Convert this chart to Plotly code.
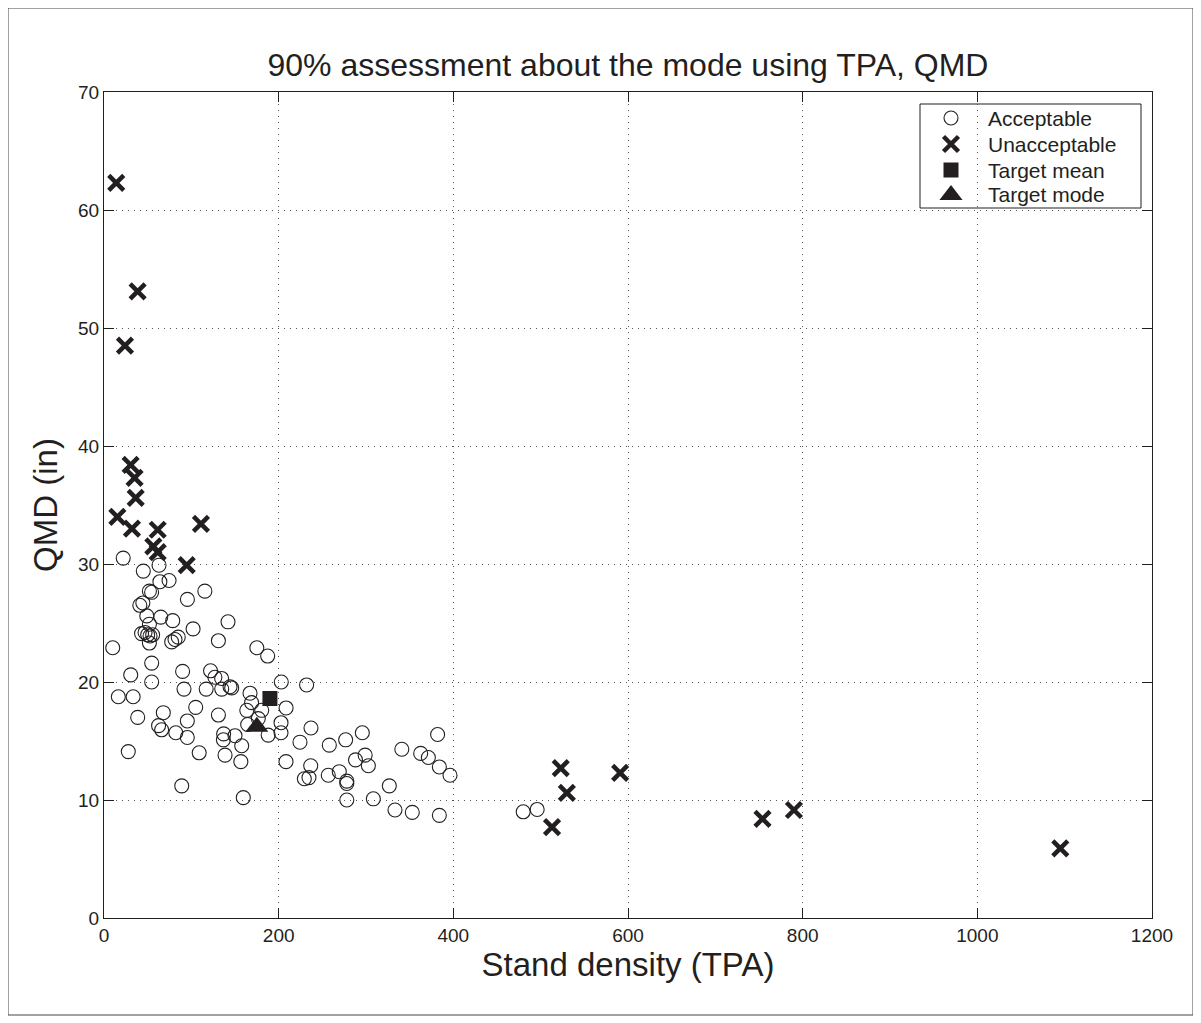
import plotly.graph_objects as go

# Acceptable points (TPA, QMD)
acc_tpa = [22, 45, 63, 64, 74.5, 52, 54.5, 115.5, 95.5, 41, 44.5, 49, 65, 78.7, 142, 52, 102,
           43, 47, 50, 52.7, 55.7, 52, 77.5, 81.3, 85, 131, 10, 175, 187.4, 54.6, 30.6, 90, 122,
           127, 134.7, 54.6, 203, 232, 91.6, 117, 134.8, 144.3, 146.2, 16.4, 33.4, 167.2, 169,
           208.5, 38.6, 67.9, 105, 131, 163.5, 180.6, 176.7, 164.5, 62.5, 66, 95.4, 82.2, 95.4,
           137, 136.7, 150, 157.7, 109, 138.6, 156.7, 27.8, 89, 159.5, 202.7, 202.7, 188, 208.4,
           237, 224.4, 258, 276.7, 295.8, 299, 288, 302.7, 236.7, 229.4, 234.7, 256.8, 269.4,
           278, 278, 278, 308.4, 326.7, 333.2, 353, 384, 341, 362.6, 371.4, 382, 384, 396.2,
           480, 496]
acc_qmd = [30.5, 29.4, 29.9, 28.5, 28.6, 27.7, 27.6, 27.7, 27.0, 26.5, 26.7, 25.6, 25.5, 25.2, 25.1, 24.9, 24.5,
           24.1, 24.2, 24.0, 23.9, 24.0, 23.3, 23.4, 23.6, 23.8, 23.5, 22.9, 22.9, 22.2, 21.6, 20.6, 20.9, 20.95,
           20.4, 20.3, 20.0, 20.0, 19.75, 19.4, 19.4, 19.4, 19.6, 19.5, 18.75, 18.75, 19.05, 18.25,
           17.8, 17.0, 17.4, 17.85, 17.2, 17.6, 17.6, 16.9, 16.4, 16.3, 15.95, 16.7, 15.7, 15.3,
           15.6, 15.1, 15.45, 14.6, 14.0, 13.8, 13.25, 14.1, 11.2, 10.2, 16.55, 15.7, 15.5, 13.25,
           16.1, 14.9, 14.65, 15.1, 15.7, 13.8, 13.4, 12.9, 12.9, 11.8, 11.9, 12.1, 12.4,
           11.6, 11.4, 10.0, 10.1, 11.2, 9.15, 8.95, 8.7, 14.3, 13.95, 13.6, 15.55, 12.8, 12.1,
           9.0, 9.2]

# Unacceptable points
unacc_tpa = [14, 38.5, 24, 30.5, 35, 36.3, 15.3, 32, 61.5, 111, 56.5, 61.5, 94.7,
             523, 530, 513, 591, 754, 790, 1095]
unacc_qmd = [62.3, 53.1, 48.5, 38.4, 37.3, 35.6, 34.0, 33.0, 32.9, 33.4, 31.5, 31.0, 29.9,
             12.7, 10.6, 7.7, 12.3, 8.4, 9.15, 5.9]

target_mean = [190, 18.6]
target_mode = [175, 16.2]

x_ticks = [0, 200, 400, 600, 800, 1000, 1200]
y_ticks = [0, 10, 20, 30, 40, 50, 60, 70]

legend_labels = ["Acceptable", "Unacceptable", "Target mean", "Target mode"]

INK = "#231f20"
FONT = "Liberation Sans, Arial, Helvetica, sans-serif"

styles = [
    dict(symbol="circle-open", size=14, color=INK, line=dict(width=1.1, color=INK)),
    dict(symbol="x-thin", size=15, color=INK, line=dict(width=4.5, color=INK)),
    dict(symbol="square", size=15, color=INK, line=dict(width=0)),
    dict(symbol="triangle-up", size=20, color=INK, line=dict(width=0)),
]

fig = go.Figure()
fig.add_trace(go.Scatter(x=acc_tpa, y=acc_qmd, mode="markers", name=legend_labels[0],
                         marker=styles[0], showlegend=False))
fig.add_trace(go.Scatter(x=unacc_tpa, y=unacc_qmd, mode="markers", name=legend_labels[1],
                         marker=styles[1], showlegend=False))
fig.add_trace(go.Scatter(x=[target_mean[0]], y=[target_mean[1]], mode="markers", name=legend_labels[2],
                         marker=styles[2], showlegend=False))
fig.add_trace(go.Scatter(x=[target_mode[0]], y=[target_mode[1]], mode="markers", name=legend_labels[3],
                         marker=styles[3], showlegend=False))

# page body has an 8px margin: figure coords = screen coords - 8
OFF = 8
W, H = 1201 - OFF, 1023 - OFF
L, R, T, B = 104 - OFF, 1152 - OFF, 92 - OFF, 918 - OFF
pw, ph = R - L, B - T

def px_x(p):
    return (p - OFF - L) / pw

def px_y(p):
    return (B - (p - OFF)) / ph

axis_common = dict(
    showline=True, linecolor=INK, linewidth=1, mirror="ticks",
    ticks="inside", ticklen=10, tickwidth=1, tickcolor=INK,
    showgrid=True, gridcolor="#555555", gridwidth=1, griddash="1px,5px",
    zeroline=False, tickfont=dict(family=FONT, size=19, color=INK),
)

# Legend box drawn in a hidden overlay axis (0..1 == plot area)
leg_x0, leg_x1, leg_y0, leg_y1 = 920, 1141, 104, 208
leg_rows = [118, 144, 170, 195]
leg_sym_x = 951
leg_txt_x = 986

fig.add_shape(type="rect", xref="paper", yref="paper",
              x0=px_x(leg_x0), x1=px_x(leg_x1), y0=px_y(leg_y1), y1=px_y(leg_y0),
              line=dict(color=INK, width=1), fillcolor="white", layer="between")
for i, lab in enumerate(legend_labels):
    fig.add_trace(go.Scatter(x=[px_x(leg_sym_x)], y=[px_y(leg_rows[i])], xaxis="x2", yaxis="y2",
                             mode="markers", marker=styles[i], showlegend=False, hoverinfo="skip"))
    fig.add_annotation(x=px_x(leg_txt_x), y=px_y(leg_rows[i]), xref="paper", yref="paper",
                       text=lab, showarrow=False, xanchor="left", yanchor="middle",
                       font=dict(family=FONT, size=21, color=INK))

fig.update_layout(
    width=W, height=H,
    margin=dict(l=L, r=W - R, t=T, b=H - B),
    paper_bgcolor="white", plot_bgcolor="white",
    font=dict(family=FONT, color=INK),
    title=dict(text="90% assessment about the mode using TPA, QMD", xref="paper", x=0.5, xanchor="center",
               yref="container", y=1 - (65 - OFF) / H, yanchor="middle",
               font=dict(family=FONT, size=32, color=INK)),
    xaxis=dict(range=[0, 1200], tickvals=x_ticks, ticktext=[str(v) for v in x_ticks],
               title=dict(text="Stand density (TPA)", font=dict(family=FONT, size=33, color=INK), standoff=8),
               **axis_common),
    yaxis=dict(range=[0, 70], tickvals=y_ticks, ticktext=[str(v) for v in y_ticks],
               title=dict(text="QMD (in)", font=dict(family=FONT, size=33, color=INK), standoff=10),
               **axis_common),
    xaxis2=dict(overlaying="x", range=[0, 1], visible=False, fixedrange=True),
    yaxis2=dict(overlaying="y", range=[0, 1], visible=False, fixedrange=True),
    showlegend=False,
)

# outer figure frame
fig.add_shape(type="rect", xref="paper", yref="paper",
              x0=px_x(8), x1=px_x(1193), y0=px_y(1015), y1=px_y(8),
              line=dict(color="#444444", width=1), fillcolor="rgba(0,0,0,0)", layer="below")

fig.write_html("out.html")
